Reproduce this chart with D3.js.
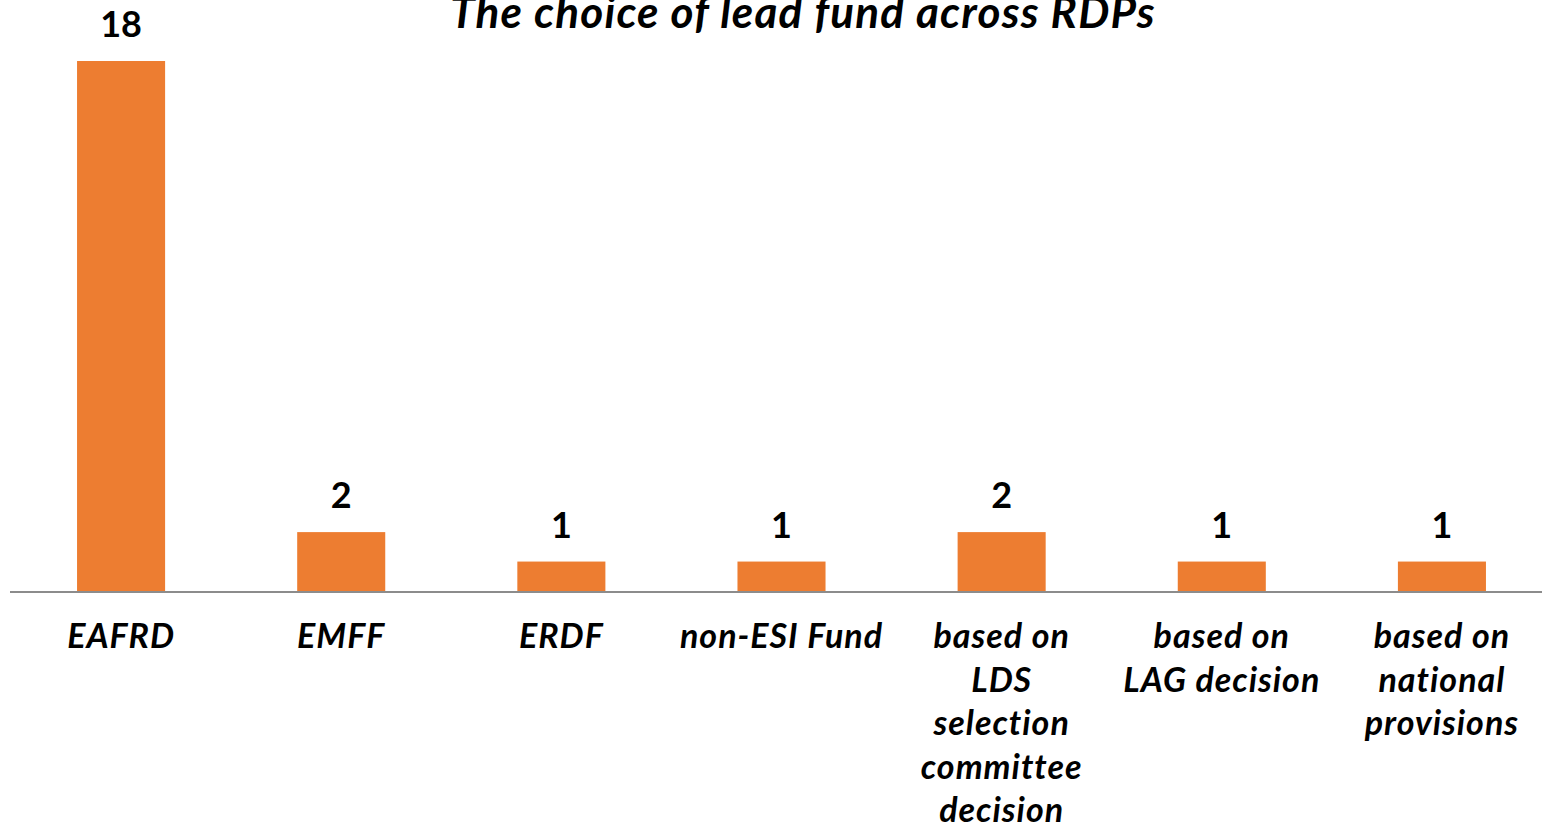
<!DOCTYPE html>
<html>
<head>
<meta charset="utf-8">
<script src="https://cdn.jsdelivr.net/npm/d3@7"></script>
<style>
  body { margin: 0; background: #fff; }
  svg { display: block; }
  text { font-family: Lato, "Open Sans", sans-serif; }
</style>
</head>
<body>
<div id="chart"></div>
<script>
// data
var categories = ["EAFRD", "EMFF", "ERDF", "non-ESI Fund",
  "based on LDS selection committee decision",
  "based on LAG decision", "based on national provisions"];
var categoryLines = [
  ["EAFRD"], ["EMFF"], ["ERDF"], ["non-ESI Fund"],
  ["based on", "LDS", "selection", "committee", "decision"],
  ["based on", "LAG decision"],
  ["based on", "national", "provisions"]
];
var counts = [18, 2, 1, 1, 2, 1, 1];
var title = "The choice of lead fund across RDPs";

var width = 1542, height = 824;
var svg = d3.select("#chart").append("svg")
  .attr("width", width)
  .attr("height", height);

var x = d3.scaleBand()
  .domain(categories)
  .range([11, 1552])
  .paddingInner(0.6)
  .paddingOuter(0.3);

var y = d3.scaleLinear()
  .domain([0, 18])
  .range([591, 61]);

// title sits partly above the top edge, as in the original
svg.append("text")
  .attr("x", 803)
  .attr("y", 28)
  .attr("text-anchor", "middle")
  .style("font-size", "44px")
  .style("letter-spacing", "1.2px")
  .style("font-weight", "bold")
  .style("font-style", "italic")
  .text(title);

svg.append("g")
  .selectAll("rect")
  .data(counts)
  .enter().append("rect")
    .attr("x", function(d, i) { return x(categories[i]); })
    .attr("y", function(d) { return y(d); })
    .attr("width", x.bandwidth())
    .attr("height", function(d) { return y(0) - y(d); })
    .attr("fill", "#ED7D31");

svg.append("line")
  .attr("x1", 10)
  .attr("x2", width)
  .attr("y1", y(0) + 1)
  .attr("y2", y(0) + 1)
  .attr("stroke", "#8c8c8c")
  .attr("stroke-width", 2);

svg.append("g")
  .selectAll("text")
  .data(counts)
  .enter().append("text")
    .attr("x", function(d, i) { return x(categories[i]) + x.bandwidth() / 2; })
    .attr("y", function(d) { return y(d) - 24; })
    .attr("text-anchor", "middle")
    .style("font-size", "36px")
    .style("font-weight", "bold")
    .text(function(d) { return d; });

var labels = svg.append("g")
  .selectAll("text")
  .data(categoryLines)
  .enter().append("text")
    .attr("text-anchor", "middle")
    .style("font-size", "34px")
    .style("letter-spacing", "1px")
    .style("font-weight", "bold")
    .style("font-style", "italic");

labels.each(function(lines, i) {
  var t = d3.select(this);
  var cx = x(categories[i]) + x.bandwidth() / 2;
  lines.forEach(function(line, j) {
    t.append("tspan")
      .attr("x", cx)
      .attr("y", 648 + j * 43.5)
      .text(line);
  });
});
</script>
</body>
</html>
